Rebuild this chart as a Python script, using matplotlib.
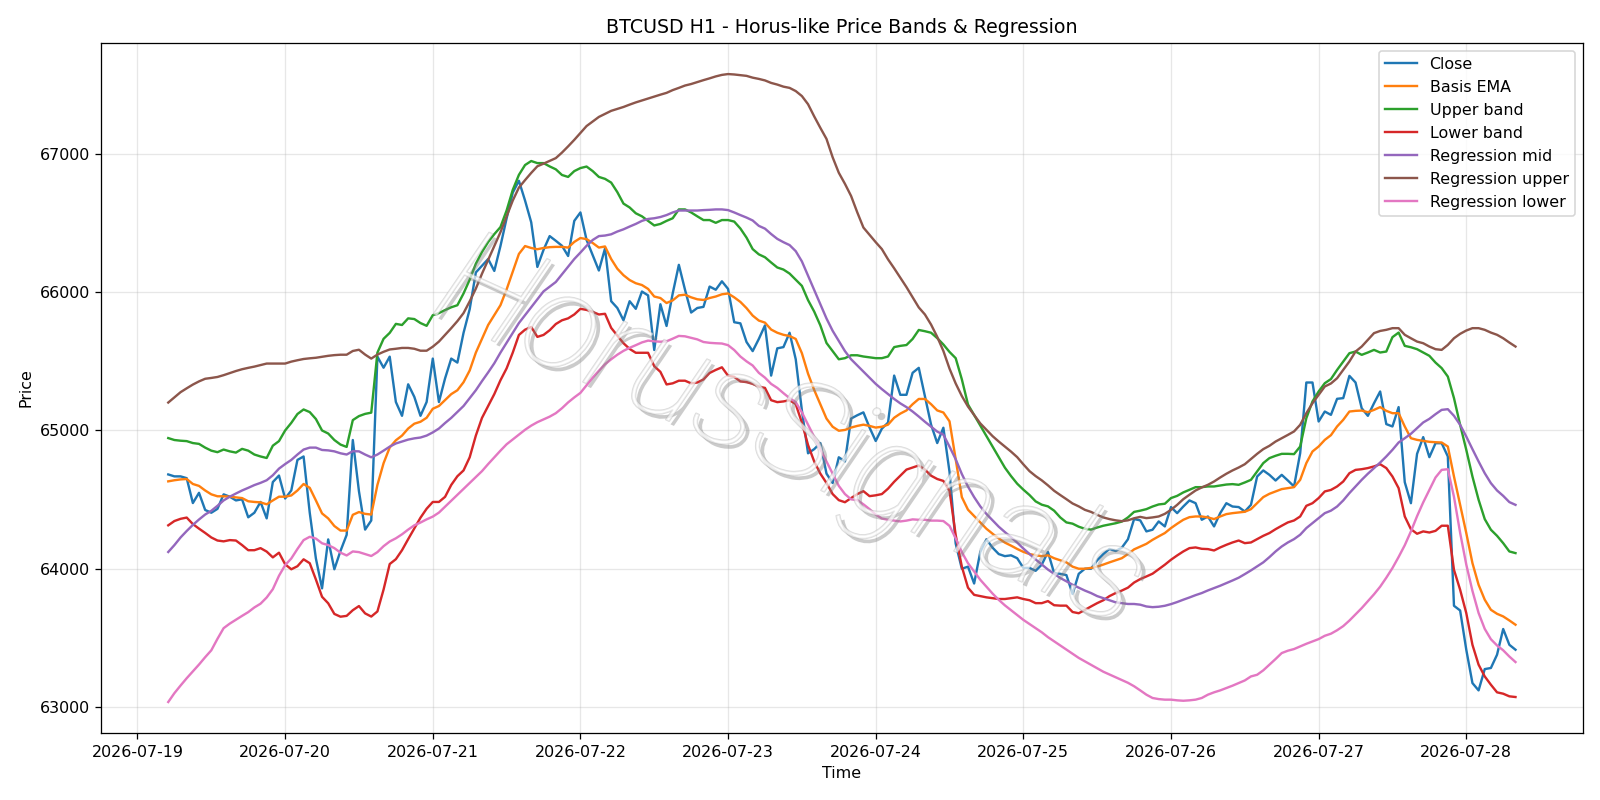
import pandas as pd
import matplotlib
matplotlib.use("Agg")
import matplotlib.pyplot as plt
import matplotlib.patheffects as pe

# hourly bars, 2026-07-19 05:00 -> 2026-07-28 08:00
START = "2026-07-19 05:00"

close = [
    64682, 64668, 64668, 64655, 64475, 64549, 64425, 64405, 64433, 64538,
    64521, 64494, 64502, 64372, 64405, 64483, 64364, 64627, 64674, 64508,
    64566, 64787, 64812, 64405, 64074, 63858, 64212, 63996, 64129, 64245,
    64931, 64560, 64283, 64349, 65534, 65454, 65534, 65206, 65106, 65334,
    65243, 65106, 65206, 65520, 65206, 65377, 65520, 65491, 65706, 65877,
    66143, 66191, 66240, 66154, 66334, 66534, 66720, 66806, 66663, 66506,
    66183, 66306, 66406, 66372, 66336, 66262, 66516, 66577, 66378, 66267,
    66157, 66317, 65935, 65886, 65797, 65935, 65880, 66005, 65977, 65582,
    65913, 65756, 65991, 66198, 66018, 65853, 65886, 65894, 66041, 66018,
    66079, 66024, 65783, 65775, 65640, 65574, 65662, 65760, 65397, 65594,
    65603, 65707, 65515, 65145, 64835, 64865, 64909, 64688, 64620, 64806,
    64776, 65086, 65110, 65131, 65021, 64924, 65013, 65057, 65397, 65258,
    65258, 65417, 65453, 65249, 65042, 64909, 65020, 64700, 64182, 64000,
    64015, 63893, 64121, 64213, 64152, 64106, 64091, 64097, 64076, 64006,
    64006, 63985, 64030, 64121, 63969, 63963, 63954, 63817, 63963, 64000,
    64000, 64061, 64106, 64143, 64128, 64152, 64213, 64359, 64350, 64270,
    64282, 64342, 64306, 64446, 64402, 64450, 64494, 64474, 64354, 64378,
    64306, 64402, 64474, 64450, 64446, 64414, 64462, 64667, 64711, 64679,
    64638, 64679, 64638, 64595, 64836, 65347, 65347, 65065, 65137, 65113,
    65229, 65234, 65395, 65347, 65161, 65106, 65197, 65282, 65046, 65029,
    65169, 64626, 64474, 64831, 64952, 64807, 64908, 64908, 64812, 63732,
    63698, 63414, 63173, 63120, 63274, 63282, 63378, 63564, 63450, 63414,
]

basis_ema = [
    64632, 64640, 64646, 64649, 64613, 64599, 64566, 64538, 64524, 64524,
    64521, 64516, 64511, 64488, 64483, 64480, 64466, 64494, 64521, 64521,
    64530, 64566, 64613, 64585, 64494, 64400, 64364, 64309, 64276, 64276,
    64390, 64410, 64397, 64392, 64606, 64763, 64877, 64929, 64963, 65014,
    65049, 65063, 65092, 65157, 65177, 65220, 65263, 65291, 65349, 65434,
    65563, 65663, 65763, 65834, 65906, 66020, 66149, 66277, 66334, 66320,
    66311, 66320, 66326, 66328, 66328, 66323, 66364, 66392, 66384, 66356,
    66323, 66331, 66240, 66170, 66123, 66088, 66065, 66052, 66024, 65969,
    65958, 65922, 65941, 65977, 65982, 65963, 65949, 65944, 65958, 65969,
    65985, 65991, 65963, 65930, 65885, 65831, 65795, 65780, 65730, 65707,
    65692, 65683, 65662, 65559, 65411, 65293, 65190, 65086, 65027, 64998,
    65004, 65021, 65033, 65042, 65033, 65021, 65027, 65042, 65092, 65122,
    65145, 65190, 65228, 65228, 65190, 65145, 65130, 65066, 64792, 64518,
    64427, 64381, 64335, 64289, 64253, 64219, 64189, 64167, 64143, 64122,
    64106, 64097, 64091, 64097, 64076, 64061, 64046, 64015, 64000, 64000,
    64006, 64015, 64030, 64046, 64061, 64076, 64106, 64140, 64160, 64180,
    64209, 64234, 64258, 64294, 64325, 64354, 64373, 64378, 64378, 64371,
    64359, 64378, 64395, 64402, 64407, 64412, 64431, 64474, 64518, 64542,
    64559, 64576, 64583, 64590, 64643, 64764, 64848, 64884, 64932, 64966,
    65029, 65077, 65137, 65142, 65144, 65132, 65149, 65169, 65142, 65125,
    65125, 65029, 64944, 64932, 64925, 64918, 64915, 64913, 64884, 64667,
    64462, 64258, 64041, 63884, 63776, 63703, 63674, 63655, 63626, 63595,
]

upper_band = [
    64945, 64931, 64926, 64923, 64909, 64903, 64876, 64854, 64843, 64862,
    64849, 64840, 64867, 64854, 64826, 64812, 64801, 64890, 64923, 65000,
    65055, 65119, 65152, 65133, 65083, 65000, 64978, 64931, 64898, 64881,
    65075, 65104, 65120, 65129, 65563, 65663, 65706, 65771, 65763, 65811,
    65806, 65777, 65757, 65834, 65849, 65871, 65891, 65906, 65991, 66091,
    66206, 66291, 66363, 66420, 66471, 66591, 66740, 66849, 66920, 66949,
    66934, 66934, 66910, 66889, 66848, 66834, 66876, 66898, 66909, 66876,
    66834, 66820, 66793, 66724, 66641, 66613, 66571, 66549, 66516, 66483,
    66494, 66516, 66535, 66599, 66599, 66577, 66549, 66522, 66522, 66502,
    66522, 66522, 66511, 66461, 66395, 66312, 66274, 66253, 66215, 66179,
    66164, 66135, 66090, 66046, 65943, 65860, 65760, 65633, 65574, 65515,
    65523, 65544, 65544, 65535, 65529, 65523, 65523, 65535, 65603, 65612,
    65618, 65662, 65727, 65718, 65707, 65668, 65622, 65568, 65523, 65370,
    65188, 65112, 65036, 64959, 64883, 64807, 64731, 64670, 64615, 64572,
    64533, 64487, 64463, 64451, 64420, 64371, 64335, 64326, 64304, 64289,
    64283, 64298, 64311, 64320, 64329, 64341, 64371, 64411, 64420, 64431,
    64450, 64465, 64470, 64511, 64527, 64552, 64571, 64590, 64590, 64595,
    64595, 64602, 64609, 64612, 64607, 64624, 64643, 64703, 64764, 64800,
    64817, 64831, 64831, 64829, 64884, 65089, 65210, 65282, 65342, 65372,
    65438, 65499, 65559, 65571, 65547, 65564, 65583, 65564, 65571, 65675,
    65708, 65612, 65602, 65588, 65564, 65540, 65491, 65451, 65390, 65234,
    65041, 64860, 64667, 64499, 64359, 64282, 64238, 64185, 64125, 64113,
]

lower_band = [
    64314, 64345, 64361, 64370, 64323, 64290, 64259, 64226, 64204, 64198,
    64207, 64204, 64171, 64134, 64134, 64149, 64124, 64082, 64116, 64032,
    63996, 64018, 64068, 64040, 63922, 63797, 63750, 63673, 63653, 63659,
    63700, 63730, 63677, 63654, 63691, 63849, 64034, 64069, 64134, 64214,
    64291, 64369, 64434, 64483, 64483, 64520, 64606, 64669, 64711, 64806,
    64963, 65091, 65177, 65263, 65363, 65449, 65563, 65691, 65729, 65749,
    65677, 65691, 65725, 65770, 65797, 65811, 65839, 65880, 65872, 65858,
    65839, 65844, 65742, 65687, 65631, 65590, 65562, 65562, 65562, 65465,
    65424, 65333, 65341, 65360, 65360, 65341, 65347, 65369, 65416, 65438,
    65457, 65396, 65388, 65355, 65350, 65337, 65317, 65308, 65219, 65205,
    65210, 65219, 65190, 65057, 64895, 64776, 64688, 64620, 64540, 64496,
    64481, 64511, 64540, 64561, 64525, 64531, 64540, 64579, 64629, 64673,
    64717, 64732, 64747, 64717, 64673, 64649, 64635, 64564, 64244, 64015,
    63863, 63811, 63802, 63793, 63787, 63781, 63781, 63787, 63793, 63781,
    63772, 63751, 63751, 63766, 63736, 63733, 63733, 63687, 63678, 63702,
    63727, 63751, 63772, 63802, 63824, 63842, 63863, 63900, 63925, 63944,
    63964, 63997, 64029, 64065, 64096, 64125, 64149, 64154, 64144, 64142,
    64132, 64154, 64173, 64190, 64204, 64185, 64190, 64214, 64238, 64258,
    64286, 64311, 64335, 64349, 64378, 64455, 64474, 64511, 64559, 64570,
    64595, 64631, 64691, 64715, 64720, 64728, 64740, 64756, 64728, 64667,
    64583, 64378, 64286, 64253, 64270, 64262, 64274, 64311, 64311, 63992,
    63848, 63679, 63450, 63306, 63221, 63161, 63106, 63096, 63077, 63072,
]

reg_mid = [
    64121, 64171, 64226, 64273, 64317, 64356, 64392, 64419, 64455, 64494,
    64521, 64544, 64566, 64585, 64605, 64621, 64640, 64676, 64724, 64757,
    64787, 64826, 64862, 64876, 64876, 64859, 64856, 64849, 64835, 64826,
    64850, 64849, 64826, 64806, 64826, 64854, 64883, 64906, 64920, 64934,
    64943, 64949, 64963, 64986, 65014, 65054, 65091, 65134, 65177, 65234,
    65291, 65357, 65420, 65486, 65563, 65634, 65706, 65777, 65834, 65891,
    65949, 66006, 66040, 66074, 66129, 66184, 66240, 66287, 66336, 66378,
    66406, 66410, 66419, 66439, 66455, 66475, 66494, 66516, 66530, 66535,
    66544, 66558, 66577, 66591, 66591, 66591, 66591, 66594, 66596, 66599,
    66599, 66594, 66577, 66558, 66540, 66519, 66480, 66460, 66421, 66386,
    66362, 66341, 66297, 66223, 66120, 66017, 65913, 65810, 65721, 65648,
    65574, 65515, 65470, 65426, 65382, 65337, 65299, 65264, 65228, 65196,
    65169, 65137, 65101, 65063, 65027, 64992, 64970, 64883, 64792, 64685,
    64594, 64518, 64451, 64396, 64350, 64304, 64265, 64228, 64189, 64146,
    64106, 64067, 64030, 63994, 63963, 63933, 63909, 63884, 63863, 63842,
    63824, 63802, 63787, 63772, 63757, 63751, 63745, 63745, 63740, 63727,
    63722, 63725, 63732, 63744, 63759, 63776, 63792, 63809, 63824, 63843,
    63860, 63877, 63896, 63915, 63935, 63961, 63988, 64017, 64046, 64084,
    64125, 64161, 64190, 64214, 64246, 64294, 64330, 64366, 64402, 64420,
    64450, 64494, 64547, 64595, 64643, 64687, 64728, 64768, 64812, 64860,
    64913, 64944, 64976, 65017, 65058, 65084, 65118, 65149, 65154, 65106,
    65041, 64956, 64865, 64776, 64691, 64619, 64566, 64527, 64482, 64462,
]

reg_upper = [
    65202, 65240, 65277, 65305, 65332, 65355, 65374, 65380, 65387, 65400,
    65415, 65430, 65443, 65453, 65462, 65473, 65484, 65484, 65484, 65484,
    65498, 65508, 65517, 65522, 65526, 65533, 65540, 65545, 65548, 65548,
    65575, 65584, 65549, 65520, 65549, 65569, 65586, 65591, 65597, 65597,
    65591, 65577, 65577, 65606, 65643, 65691, 65740, 65791, 65849, 65934,
    66026, 66134, 66234, 66334, 66434, 66549, 66663, 66757, 66811, 66863,
    66911, 66930, 66950, 66970, 67010, 67055, 67102, 67152, 67202, 67235,
    67268, 67290, 67312, 67326, 67340, 67357, 67373, 67387, 67401, 67415,
    67429, 67442, 67462, 67478, 67495, 67506, 67520, 67534, 67547, 67561,
    67572, 67578, 67575, 67570, 67565, 67552, 67543, 67532, 67514, 67502,
    67487, 67478, 67455, 67419, 67360, 67272, 67189, 67109, 66976, 66864,
    66784, 66696, 66578, 66468, 66415, 66362, 66312, 66238, 66173, 66105,
    66037, 65963, 65890, 65839, 65766, 65677, 65575, 65447, 65340, 65249,
    65173, 65112, 65051, 65005, 64959, 64920, 64883, 64847, 64807, 64755,
    64706, 64670, 64639, 64603, 64564, 64533, 64503, 64472, 64451, 64426,
    64411, 64390, 64371, 64359, 64350, 64344, 64350, 64365, 64375, 64366,
    64371, 64378, 64397, 64426, 64462, 64503, 64535, 64566, 64588, 64607,
    64631, 64660, 64687, 64711, 64732, 64756, 64793, 64831, 64865, 64889,
    64920, 64944, 64968, 64993, 65041, 65125, 65197, 65258, 65318, 65340,
    65378, 65438, 65499, 65571, 65607, 65655, 65704, 65720, 65728, 65740,
    65740, 65692, 65667, 65643, 65631, 65607, 65588, 65583, 65619, 65667,
    65699, 65723, 65740, 65740, 65728, 65708, 65692, 65667, 65636, 65607,
]

reg_lower = [
    63036, 63100, 63155, 63208, 63258, 63307, 63360, 63410, 63493, 63570,
    63603, 63631, 63659, 63686, 63720, 63747, 63792, 63852, 63949, 64026,
    64074, 64143, 64207, 64231, 64218, 64184, 64171, 64149, 64116, 64096,
    64125, 64120, 64106, 64092, 64120, 64163, 64197, 64220, 64249, 64283,
    64314, 64334, 64357, 64377, 64406, 64449, 64491, 64534, 64577, 64620,
    64663, 64706, 64757, 64806, 64854, 64900, 64935, 64970, 65005, 65035,
    65060, 65080, 65100, 65125, 65161, 65203, 65239, 65272, 65327, 65382,
    65432, 65479, 65515, 65548, 65576, 65598, 65617, 65637, 65650, 65645,
    65642, 65645, 65664, 65684, 65681, 65670, 65659, 65640, 65634, 65631,
    65629, 65617, 65582, 65535, 65500, 65470, 65417, 65382, 65337, 65308,
    65270, 65234, 65205, 65131, 65042, 64954, 64865, 64776, 64688, 64599,
    64540, 64502, 64496, 64466, 64431, 64392, 64363, 64354, 64348, 64342,
    64348, 64357, 64354, 64354, 64348, 64348, 64345, 64310, 64220, 64120,
    64040, 63980, 63920, 63870, 63820, 63775, 63735, 63700, 63665, 63630,
    63600, 63570, 63540, 63505, 63475, 63445, 63415, 63385, 63355, 63330,
    63305, 63280, 63255, 63235, 63215, 63195, 63175, 63150, 63120, 63089,
    63065, 63057, 63053, 63053, 63048, 63045, 63048, 63053, 63065, 63089,
    63106, 63120, 63137, 63154, 63173, 63192, 63221, 63233, 63265, 63306,
    63347, 63390, 63407, 63419, 63438, 63457, 63474, 63491, 63515, 63530,
    63555, 63585, 63625, 63670, 63715, 63765, 63815, 63870, 63935, 64005,
    64085, 64170, 64270, 64380, 64480, 64570, 64660, 64715, 64720, 64520,
    64260, 64030, 63840, 63680, 63565, 63490, 63445, 63410, 63365, 63325,
]

times = pd.date_range(START, periods=len(close), freq="h")

fig, ax = plt.subplots(figsize=(14, 7))

ax.plot(times, close, label="Close")
ax.plot(times, basis_ema, label="Basis EMA")
ax.plot(times, upper_band, label="Upper band")
ax.plot(times, lower_band, label="Lower band")
ax.plot(times, reg_mid, label="Regression mid")
ax.plot(times, reg_upper, label="Regression upper")
ax.plot(times, reg_lower, label="Regression lower")

# watermark, hollow letters with a soft shadow
ax.text(0.465, 0.43, "HorusSignals", transform=ax.transAxes,
        family=["Roboto", "DejaVu Sans"], style="italic", weight="light",
        fontsize=86, rotation=-24.5, ha="center", va="center",
        color="white", alpha=0.45,
        path_effects=[pe.SimplePatchShadow(offset=(3, -3), shadow_rgbFace="#7f7f7f", alpha=0.4),
                      pe.Stroke(linewidth=1.0, foreground="#b0b0b0"),
                      pe.Normal()])

ax.set_title("BTCUSD H1 - Horus-like Price Bands & Regression")
ax.set_xlabel("Time")
ax.set_ylabel("Price")
ax.grid(True, alpha=0.3)
ax.legend(loc="upper right")

plt.tight_layout()
plt.savefig("out.png", dpi=800 / 7)
